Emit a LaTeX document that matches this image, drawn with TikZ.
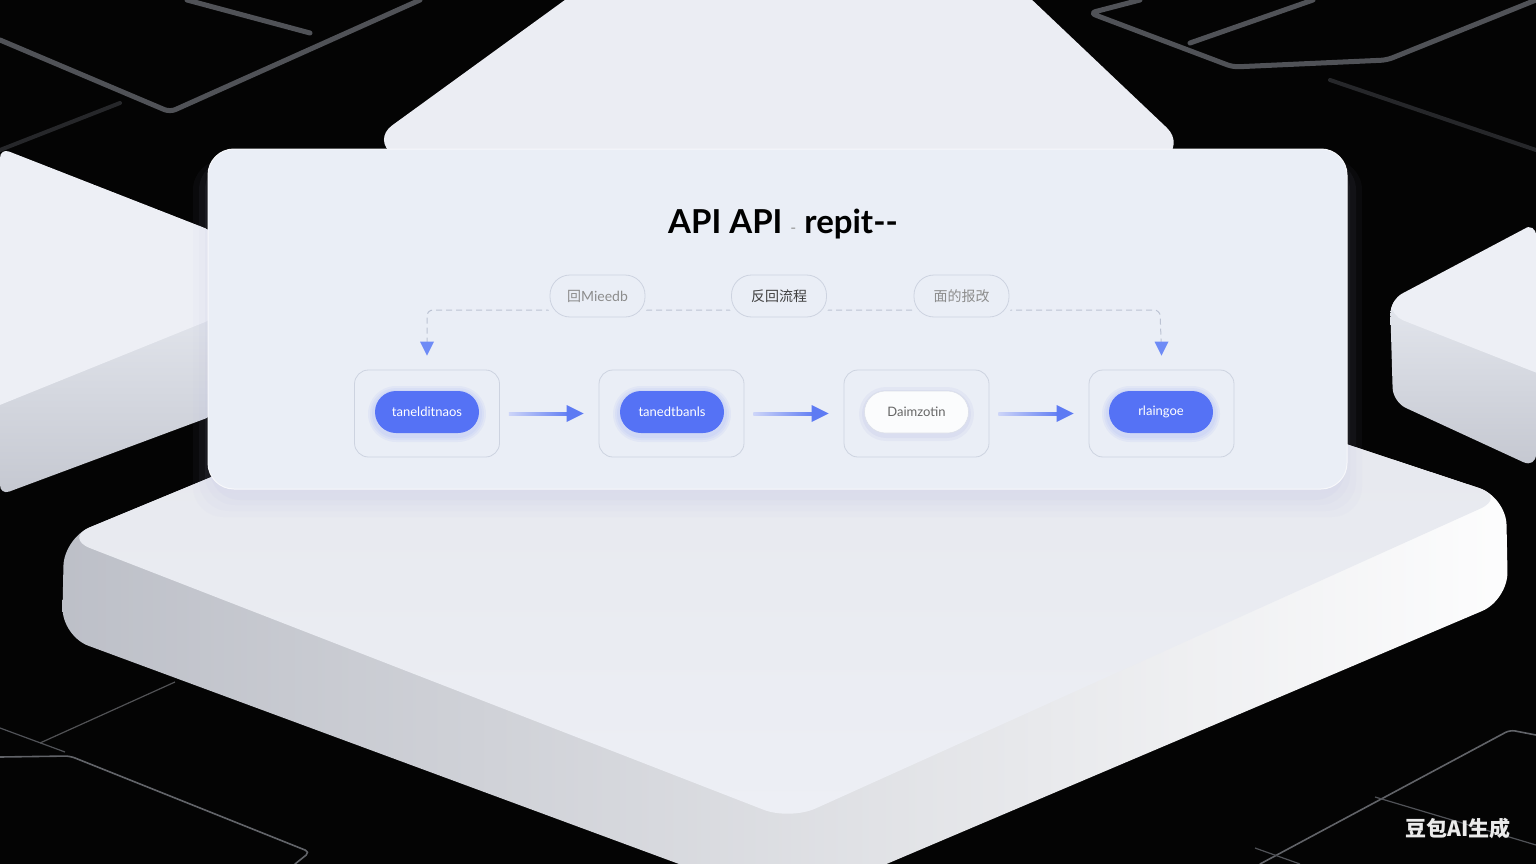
\documentclass[tikz,border=0pt]{standalone}
\usepackage{fontspec}
\setmainfont{Lato}
\newfontfamily\cjk{Noto Sans CJK SC}
\usetikzlibrary{arrows.meta,calc}
\definecolor{bgc}{HTML}{040404}
\definecolor{slabtop}{HTML}{EDEFF5}
\definecolor{slableft}{HTML}{C4C7D0}
\definecolor{slabright}{HTML}{E3E6ED}
\definecolor{cardc}{HTML}{EAEEF6}
\definecolor{boxline}{HTML}{CDD3E0}
\definecolor{pillblue}{HTML}{5572F5}
\definecolor{tipblue}{HTML}{6E8BF6}
\definecolor{shaftL}{HTML}{CDD5F8}
\definecolor{shaftR}{HTML}{5E7BF3}
\definecolor{dashc}{HTML}{BCC3D3}
\definecolor{lineg}{HTML}{505257}
\definecolor{lined}{HTML}{26272A}
\begin{document}
\begin{tikzpicture}[x=1pt,y=-1pt,
  glow/.style={line width=5pt,draw=lineg,line cap=round,line join=round,rounded corners=6},
  dglow/.style={line width=4pt,draw=lined,line cap=round},
  thin/.style={line width=1.6pt,draw=lineg!90!white,line cap=round,rounded corners=5},
  stepbox/.style={draw=boxline,line width=0.8pt,fill=cardc,rounded corners=14pt,minimum width=145pt,minimum height=87pt},
  bluepill/.style={fill=pillblue,rounded corners=21pt,minimum width=104pt,minimum height=42pt,text=white,font=\fontsize{13}{15}\selectfont},
  whitepill/.style={fill=white!80!cardc,draw=boxline!70!white,line width=0.6pt,rounded corners=21pt,minimum width=104pt,minimum height=42pt,text=black!60,font=\fontsize{13}{15}\selectfont},
  tag/.style={draw=boxline,line width=0.8pt,fill=cardc,rounded corners=20pt,minimum width=95pt,minimum height=42pt,preaction={draw=cardc,line width=10pt},font=\fontsize{14}{16}\selectfont},
  dline/.style={draw=dashc,line width=1pt,dash pattern=on 6pt off 4pt,rounded corners=6}
]
\useasboundingbox (0,0) rectangle (1536,864);
\fill[bgc] (0,0) rectangle (1536,864);
% background lines
\draw[glow] (0,40) -- (170,112) -- (420,0);
\draw[glow] (187,0) -- (310,33);
\draw[dglow] (0,150) -- (120,103);
\draw[glow] (1140,0) -- (1090,13) -- (1233,67) -- (1387,60) -- (1536,0);
\draw[glow] (1190,43) -- (1313,0);
\draw[dglow] (1330,80) -- (1536,150);
\draw[line width=1.2pt,draw=lined!80!white] (40,743) -- (175,682);
\draw[thin] (0,757) -- (70,756) -- (310,852) -- (295,864);
\draw[line width=1.2pt,draw=lineg] (0,728) -- (65,752);
\draw[thin] (1260,864) -- (1510,730) -- (1536,735);
\draw[line width=1.2pt,draw=lineg] (1375,797) -- (1536,845);
\draw[line width=1.2pt,draw=lineg] (1255,848) -- (1300,864);
% top slab behind
\fill[slabtop!99!black,rounded corners=25] (372,140) -- (620,-40) -- (990,-40) -- (1185,145) -- (780,420) -- cycle;
% left slab
\begin{scope}
\path[clip,rounded corners=10] (0,148) -- (215,232) -- (215,415) -- (0,495) -- cycle;
\shade[top color=slabright,bottom color=slableft] (0,300) rectangle (215,500);
\fill[slabtop,rounded corners=10] (-20,140) -- (215,232) -- (215,318) -- (-20,413) -- cycle;
\end{scope}
% right slab
\begin{scope}
\path[clip,rounded corners=14] (1536,222) -- (1390,300) -- (1393,402) -- (1536,468) -- cycle;
\shade[top color=slabright,bottom color=slableft] (1380,300) rectangle (1536,470);
\fill[slabtop,rounded corners=12] (1560,210) -- (1390,300) -- (1392,316) -- (1560,382) -- cycle;
\end{scope}
% bottom slab
\begin{scope}
\path[clip,rounded corners=28] (64,538) -- (62,636) -- (790,905) -- (1508,600) -- (1506,497) -- (760,250) -- cycle;
\shade[left color=slableft!95!black,right color=white!94!slabtop] (0,400) rectangle (1536,950);
\shade[top color=slabtop!96!black,bottom color=slabtop,rounded corners=28] (64,538) -- (760,250) -- (1506,497) -- (790,820) -- cycle;
\end{scope}
% card shadow
\foreach \o/\a in {22/0.04,16/0.05,10/0.06,5/0.07}
  \fill[black!40!blue!30,opacity=\a,rounded corners=30] (215-\o,160) rectangle (1340+\o,495+\o);
% card
\node[draw=white!60!cardc,line width=1pt,fill=cardc,rounded corners=26pt,minimum width=1139pt,minimum height=340pt,inner sep=0pt] (card) at (777.5,319) {};
% title
\node (title) at (783,224) {\fontsize{33}{40}\selectfont\bfseries API API {\mdseries\color{black!40}\fontsize{16}{20}\selectfont -} repit-{}-};
% dashed feedback line
\coordinate (dl) at (427,310);
\coordinate (dr) at (1160,310);
% step boxes
\node[stepbox] (o1) at (427,413.5) {};
\node[stepbox] (o2) at (671.5,413.5) {};
\node[stepbox] (o3) at (916.5,413.5) {};
\node[stepbox] (o4) at (1161.5,413.5) {};
\draw[dline] ([yshift=16pt]o1.north) -- (dl) -- (dr) -- ([yshift=16pt]o4.north);
\fill[tipblue] ([yshift=14pt]o1.north) -- ++(-7,-14) -- ++(14,0) -- cycle;
\fill[tipblue] ([yshift=14pt]o4.north) -- ++(-7,-14) -- ++(14,0) -- cycle;
% tags
\node[tag,text=black!45] (t1) at (597.5,296) {{\cjk 回}Mieedb};
\node[tag,text=black!75] (t2) at (779,296) {\cjk 反回流程};
\node[tag,text=black!45] (t3) at (961.5,296) {\cjk 面的报改};
% pill glows
\foreach \x in {427,672,1161}
  \foreach \g in {7,5,3}
    \fill[pillblue,opacity=0.06,rounded corners=21pt+\g] (\x-52-\g,391-\g+2) rectangle (\x+52+\g,433+\g+2);
\foreach \g in {6,3}
  \fill[black!30!blue,opacity=0.03,rounded corners=21pt+\g] (865-\g,391-\g+2) rectangle (968+\g,433+\g+2);
\node[bluepill] (p1) at (427,412) {tanelditnaos};
\node[bluepill] (p2) at (672,412) {tanedtbanls};
\node[whitepill] (p3) at (916.5,412) {Daimzotin};
\node[bluepill] (p4) at (1161,412) {rlaingoe};
% arrows between steps
\foreach \a/\b in {o1/o2,o2/o3,o3/o4}{
  \path[left color=shaftL,right color=shaftR] ($(\a.east)+(9,-1.5)$) rectangle ($(\b.west)+(-28,1.5)$);
  \fill[shaftR] ($(\b.west)+(-15,0)$) -- ++(-17,-8.5) -- ++(0,17) -- cycle;
}
% watermark
\node[text=white!92!black] (wm) at (1458,828) {\cjk\bfseries\fontsize{21}{24}\selectfont 豆包AI生成};
\end{tikzpicture}
\end{document}
